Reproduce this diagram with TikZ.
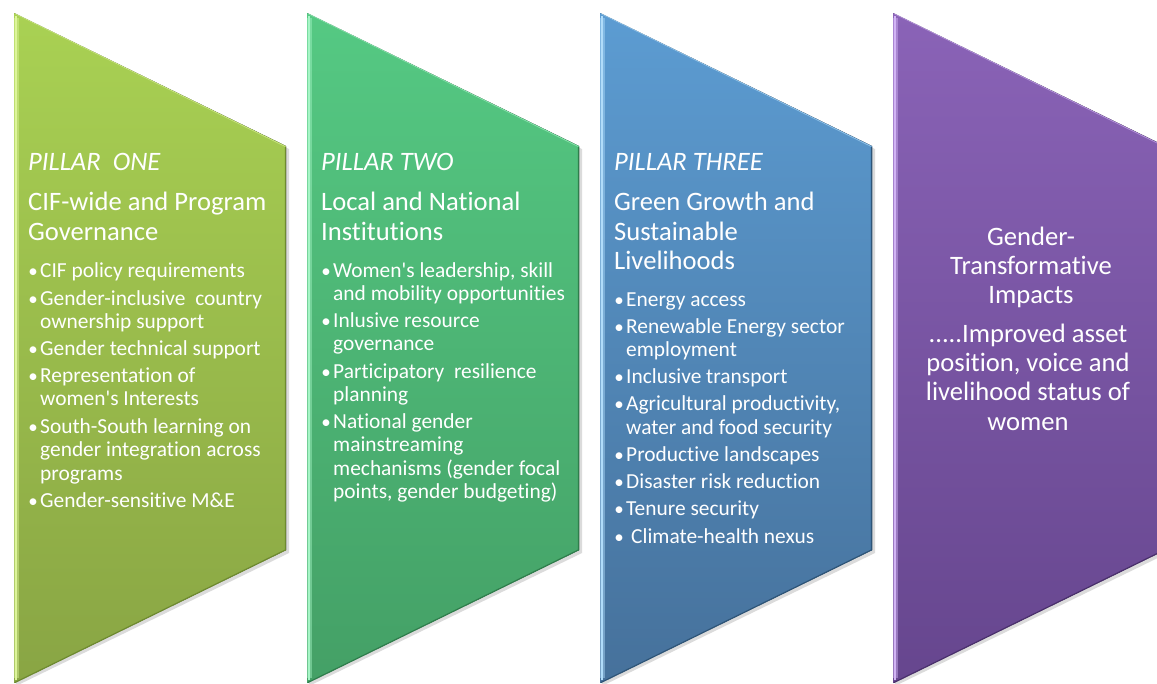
\documentclass[tikz,border=0pt]{standalone}
\usepackage{fontspec}
\setmainfont{Carlito}[Ligatures={TeXOff,NoCommon}]
\definecolor{gAtop}{HTML}{A9D153}
\definecolor{gAbot}{HTML}{89A544}
\definecolor{gAlight}{HTML}{DDF59A}
\definecolor{gAdark}{HTML}{6E8A30}
\definecolor{gBtop}{HTML}{55C983}
\definecolor{gBbot}{HTML}{44A066}
\definecolor{gBlight}{HTML}{A6F5C6}
\definecolor{gBdark}{HTML}{2F7E4C}
\definecolor{gCtop}{HTML}{5C9CD2}
\definecolor{gCbot}{HTML}{46719B}
\definecolor{gClight}{HTML}{B0DCFA}
\definecolor{gCdark}{HTML}{2E5578}
\definecolor{gDtop}{HTML}{8A63B7}
\definecolor{gDbot}{HTML}{66468E}
\definecolor{gDlight}{HTML}{D2B4F5}
\definecolor{gDdark}{HTML}{4A306C}
\newcommand\pillarshape[5]{%
  \fill[black, opacity=0.14] (#1+2,16) -- (#1+275,149) -- (#1+275,553) -- (#1+2,686) -- cycle;
  \fill[top color=#2, bottom color=#3] (#1,13) -- (#1+272,146) -- (#1+272,550) -- (#1,683) -- cycle;
  \draw[#4, line width=5, opacity=0.45] (#1+2.5,18) -- (#1+2.5,678);
  \draw[#4, line width=2] (#1+1.5,16) -- (#1+1.5,680);
  \draw[#5, line width=1.2] (#1+271.4,147) -- (#1+271.4,550) -- (#1+1,682.5);
  \draw[#4, line width=0.8, opacity=0.6] (#1+1,13.6) -- (#1+271,146.4);
}
\begin{document}
\begin{tikzpicture}[x=1pt, y=-1pt,
  hd/.style={anchor=base west, inner sep=0, text=white, font=\fontsize{26.6}{30}\selectfont},
  ithd/.style={hd, font=\fontsize{26.6}{30}\selectfont\itshape},
  bl/.style={anchor=base west, inner sep=0, text=white, font=\fontsize{21.4}{23}\selectfont},
  dt/.style={anchor=base, inner sep=0, text=white, font=\fontsize{19}{19}\selectfont},
  ct/.style={anchor=base, inner sep=0, text=white, font=\fontsize{26.6}{30}\selectfont}]
\clip (0,0) rectangle (1157,683);
\fill[white] (0,0) rectangle (1157,683);
\pillarshape{14}{gAtop}{gAbot}{gAlight}{gAdark}
\pillarshape{307}{gBtop}{gBbot}{gBlight}{gBdark}
\pillarshape{600}{gCtop}{gCbot}{gClight}{gCdark}
\pillarshape{893}{gDtop}{gDbot}{gDlight}{gDdark}
% Pillar one
\node[ithd] (p1t) at (28,170) {PILLAR\ \ ONE};
\node[hd] (p1h1) at (28,210) {CIF-wide and Program};
\node[hd] (p1h2) at (28,240) {Governance};
\node[dt] (p1d1) at (33,277) {•};
\node[bl] (p1a) at (40,277) {CIF policy requirements};
\node[dt] (p1d2) at (33,305) {•};
\node[bl] (p1b) at (40,305) {Gender-inclusive\ \ country};
\node[bl] (p1b2) at (40,328) {ownership support};
\node[dt] (p1d3) at (33,355) {•};
\node[bl] (p1c) at (40,355) {Gender technical support};
\node[dt] (p1d4) at (33,382) {•};
\node[bl] (p1e) at (40,382) {Representation of};
\node[bl] (p1e2) at (40,405) {women's Interests};
\node[dt] (p1d5) at (33,433) {•};
\node[bl] (p1f) at (40,433) {South-South learning on};
\node[bl] (p1f2) at (40,456.5) {gender integration across};
\node[bl] (p1f3) at (40,480) {programs};
\node[dt] (p1d6) at (33,507) {•};
\node[bl] (p1g) at (40,507) {Gender-sensitive M\&E};
% Pillar two
\node[ithd] (p2t) at (321,170) {PILLAR TWO};
\node[hd] (p2h1) at (321,210) {Local and National};
\node[hd] (p2h2) at (321,240) {Institutions};
\node[dt] (p2d1) at (326,277) {•};
\node[bl] (p2a) at (333,277) {Women's leadership, skill};
\node[bl] (p2a2) at (333,300) {and mobility opportunities};
\node[dt] (p2d2) at (326,327) {•};
\node[bl] (p2b) at (333,327) {Inlusive resource};
\node[bl] (p2b2) at (333,350.5) {governance};
\node[dt] (p2d3) at (326,378) {•};
\node[bl] (p2c) at (333,378) {Participatory\ \ resilience};
\node[bl] (p2c2) at (333,401.5) {planning};
\node[dt] (p2d4) at (326,428) {•};
\node[bl] (p2e) at (333,428) {National gender};
\node[bl] (p2e2) at (333,451.5) {mainstreaming};
\node[bl] (p2e3) at (333,475) {mechanisms (gender focal};
\node[bl] (p2e4) at (333,498.5) {points, gender budgeting)};
% Pillar three
\node[ithd] (p3t) at (614,170) {PILLAR THREE};
\node[hd] (p3h1) at (614,210) {Green Growth and};
\node[hd] (p3h2) at (614,240) {Sustainable};
\node[hd] (p3h3) at (614,269) {Livelihoods};
\node[dt] (p3d1) at (619,306) {•};
\node[bl] (p3a) at (626,306) {Energy access};
\node[dt] (p3d2) at (619,333) {•};
\node[bl] (p3b) at (626,333) {Renewable Energy sector};
\node[bl] (p3b2) at (626,356) {employment};
\node[dt] (p3d3) at (619,383.5) {•};
\node[bl] (p3c) at (626,383.5) {Inclusive transport};
\node[dt] (p3d4) at (619,410.5) {•};
\node[bl] (p3e) at (626,410.5) {Agricultural productivity,};
\node[bl] (p3e2) at (626,434) {water and food security};
\node[dt] (p3d5) at (619,461.5) {•};
\node[bl] (p3f) at (626,461.5) {Productive landscapes};
\node[dt] (p3d6) at (619,488.5) {•};
\node[bl] (p3g) at (626,488.5) {Disaster risk reduction};
\node[dt] (p3d7) at (619,515.5) {•};
\node[bl] (p3h) at (626,515.5) {Tenure security};
\node[dt] (p3d8) at (619,543) {•};
\node[bl] (p3i) at (631,543) {Climate-health nexus};
% Pillar four
\node[ct] (p4a) at (1031,245) {Gender-};
\node[ct] (p4b) at (1031,274) {Transformative};
\node[ct] (p4c) at (1031,303) {Impacts};
\node[ct] (p4d) at (1028,342) {.....Improved asset};
\node[ct] (p4e) at (1028,371) {position, voice and};
\node[ct] (p4f) at (1028,400.5) {livelihood status of};
\node[ct] (p4g) at (1028,430) {women};
\end{tikzpicture}
\end{document}
